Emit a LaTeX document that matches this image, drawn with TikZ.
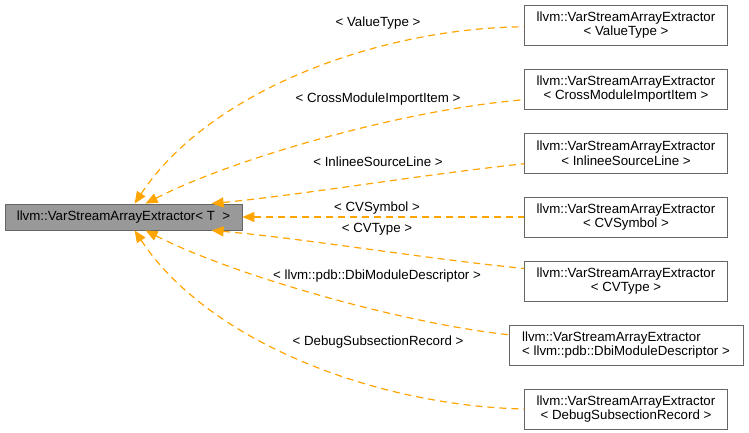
\documentclass[tikz,border=0pt]{standalone}
\usepackage{fontspec}
\setmainfont{Liberation Sans}
\usetikzlibrary{arrows.meta}
\definecolor{edgeorange}{RGB}{255,165,0}
\definecolor{mainfill}{RGB}{153,153,153}
\definecolor{boxborder}{RGB}{102,102,102}
\begin{document}
\begin{tikzpicture}[x=1pt,y=-1pt,
  every node/.style={font=\fontsize{13.3}{14.5}\selectfont, inner sep=0pt},
  mainbox/.style={draw=boxborder, fill=mainfill, minimum width=237pt, minimum height=26pt, line width=0.8pt},
  classbox/.style={draw=boxborder, fill=white, minimum width=203pt, minimum height=40pt, align=center, line width=0.8pt},
  widebox/.style={classbox, minimum width=234pt, align=left},
  inhedge/.style={draw=edgeorange, line width=1.2pt, dash pattern=on 7pt off 5pt,
    {Triangle[length=12pt,width=10pt,fill=edgeorange]}-}]
\useasboundingbox (0,0) rectangle (749,433);
\node[mainbox] (main) at (123.5,217) {llvm::VarStreamArrayExtractor< T \ >};
\node[classbox] (r1) at (626,25) {llvm::VarStreamArrayExtractor\\< ValueType >};
\node[classbox] (r2) at (626,89) {llvm::VarStreamArrayExtractor\\< CrossModuleImportItem >};
\node[classbox] (r3) at (626,153) {llvm::VarStreamArrayExtractor\\< InlineeSourceLine >};
\node[classbox] (r4) at (626,217) {llvm::VarStreamArrayExtractor\\< CVSymbol >};
\node[classbox] (r5) at (626,281) {llvm::VarStreamArrayExtractor\\< CVType >};
\node[widebox] (r6) at (626,345) {llvm::VarStreamArrayExtractor\\< llvm::pdb::DbiModuleDescriptor >};
\node[classbox] (r7) at (626,409) {llvm::VarStreamArrayExtractor\\< DebugSubsectionRecord >};
\draw[inhedge] ([xshift=130pt]main.north west) .. controls (210,90) and (380,28) .. (r1.181);
\draw[inhedge] ([xshift=141pt]main.north west) .. controls (230,160) and (400,110) .. (r2.186);
\draw[inhedge] ([xshift=207pt]main.north west) .. controls (300,195) and (420,175) .. (r3.186);
\draw[inhedge] (main.east) -- (r4.west);
\draw[inhedge] ([xshift=207pt]main.south west) .. controls (300,238) and (420,258) .. (r5.173);
\draw[inhedge] ([xshift=141pt]main.south west) .. controls (230,274) and (400,323) .. (r6.175);
\draw[inhedge] ([xshift=130pt]main.south west) .. controls (210,344) and (380,406) .. (r7.180);
\node (l1) at (378,23) {< ValueType >};
\node (l2) at (378,99) {< CrossModuleImportItem >};
\node (l3) at (378,162) {< InlineeSourceLine >};
\node (l4) at (377,208) {< CVSymbol >};
\node (l5) at (377,229) {< CVType >};
\node (l6) at (377,276) {< llvm::pdb::DbiModuleDescriptor >};
\node (l7) at (378,342) {< DebugSubsectionRecord >};
\end{tikzpicture}
\end{document}
